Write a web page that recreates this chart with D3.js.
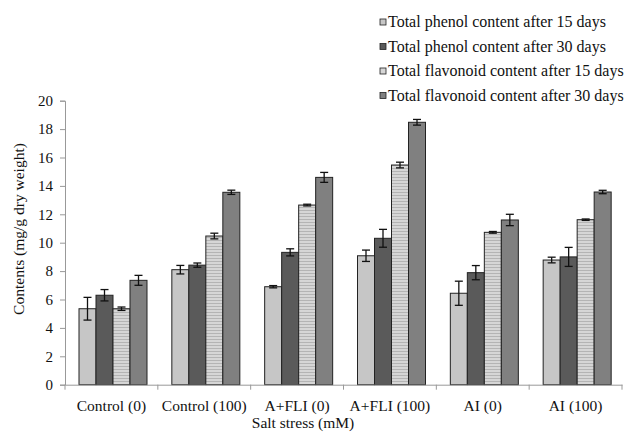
<!DOCTYPE html>
<html><head><meta charset="utf-8">
<script src="https://cdn.jsdelivr.net/npm/d3@7"></script>
<style>body{margin:0;background:#fff}svg{display:block}text{font-family:"Liberation Serif","Times New Roman",serif;fill:#111}</style>
</head><body><svg id="c" width="624" height="435"></svg>
<script>
const categories = ["Control (0)","Control (100)","A+FLI (0)","A+FLI (100)","AI (0)","AI (100)"];
const seriesNames = ["Total phenol content after 15 days","Total phenol content after 30 days","Total flavonoid content after 15 days","Total flavonoid content after 30 days"];
const phenol15 = [5.35, 8.1, 6.9, 9.08, 6.44, 8.78];
const phenol15Err = [0.8, 0.3, 0.08, 0.4, 0.85, 0.2];
const phenol30 = [6.3, 8.42, 9.32, 10.31, 7.89, 9.0];
const phenol30Err = [0.4, 0.15, 0.25, 0.63, 0.5, 0.67];
const flav15 = [5.35, 10.47, 12.65, 15.47, 10.73, 11.62];
const flav15Err = [0.12, 0.2, 0.06, 0.2, 0.06, 0.05];
const flav30 = [7.35, 13.55, 14.6, 18.48, 11.6, 13.57];
const flav30Err = [0.35, 0.15, 0.35, 0.2, 0.4, 0.12];
const yTicks = [0,2,4,6,8,10,12,14,16,18,20];

const values = [phenol15, phenol30, flav15, flav30];
const errs = [phenol15Err, phenol30Err, flav15Err, flav30Err];
const fills = ["#c6c6c6","#5a5a5a","url(#stripes)","#808080"];

const svg = d3.select("#c");
const defs = svg.append("defs");
const pat = defs.append("pattern").attr("id","stripes").attr("patternUnits","userSpaceOnUse").attr("width",4).attr("height",3);
pat.append("rect").attr("width",4).attr("height",3).attr("fill","#d6d6d6");
pat.append("rect").attr("width",4).attr("height",1).attr("fill","#b4b4b4");

const mLeft = 65, mRight = 622, mTop = 100.7, mBottom = 384.7;
const x0 = d3.scaleBand().domain(categories).range([mLeft, mRight]).padding(0);
const x1 = d3.scaleBand().domain(d3.range(4)).range([14, 82]).padding(0);
const y = d3.scaleLinear().domain([0,20]).range([mBottom, mTop]);

// y axis
const ya = svg.append("g").attr("transform",`translate(${mLeft},0)`)
  .call(d3.axisLeft(y).tickValues(yTicks).tickSize(5).tickPadding(7));
ya.select(".domain").attr("stroke","#999");
ya.selectAll(".tick line").attr("stroke","#999");
ya.selectAll("text").attr("font-size","15px").attr("font-family","Liberation Serif").attr("fill","#111");

// bars
categories.forEach((c,i)=>{
  values.forEach((s,j)=>{
    const bx = x0(c)+x1(j), bw = x1.bandwidth();
    svg.append("rect").attr("x",bx).attr("y",y(s[i])).attr("width",bw).attr("height",y(0)-y(s[i]))
      .attr("fill",fills[j]).attr("stroke","#222").attr("stroke-width",1);
    const cx = bx + bw/2, e = errs[j][i];
    const g = svg.append("g").attr("stroke","#111").attr("stroke-width",1.3);
    g.append("line").attr("x1",cx).attr("x2",cx).attr("y1",y(s[i]+e)).attr("y2",y(s[i]-e));
    g.append("line").attr("x1",cx-4).attr("x2",cx+4).attr("y1",y(s[i]+e)).attr("y2",y(s[i]+e));
    g.append("line").attr("x1",cx-4).attr("x2",cx+4).attr("y1",y(s[i]-e)).attr("y2",y(s[i]-e));
  });
});

// x axis
const xa = svg.append("g").attr("transform",`translate(0,${mBottom})`)
  .call(d3.axisBottom(x0).tickSize(0).tickPadding(15));
xa.select(".domain").attr("stroke","#999");
xa.selectAll("text").attr("font-size","15.5px").attr("font-family","Liberation Serif").attr("fill","#111");
const bounds = categories.map(c=>x0(c)).concat([mRight]);
xa.selectAll(".sep").data(bounds).enter().append("line").attr("class","sep")
  .attr("x1",d=>d).attr("x2",d=>d).attr("y1",0).attr("y2",5).attr("stroke","#999");

svg.append("text").attr("x",303).attr("y",428).attr("text-anchor","middle").attr("font-size","15.5px").text("Salt stress (mM)");
svg.append("text").attr("transform","translate(24,229) rotate(-90)").attr("text-anchor","middle").attr("font-size","15.5px").text("Contents (mg/g dry weight)");

// legend
const leg = svg.append("g");
const legFills = ["#c6c6c6","#5a5a5a","#d6d6d6","#808080"];
seriesNames.forEach((n,j)=>{
  const ly = 22 + j*24.5;
  leg.append("rect").attr("x",380).attr("y",ly-3).attr("width",6).attr("height",6).attr("fill",legFills[j]).attr("stroke","#222").attr("stroke-width",0.8);
  leg.append("text").attr("x",388).attr("y",ly+5).attr("font-size","16px").text(n);
});
</script></body></html>
